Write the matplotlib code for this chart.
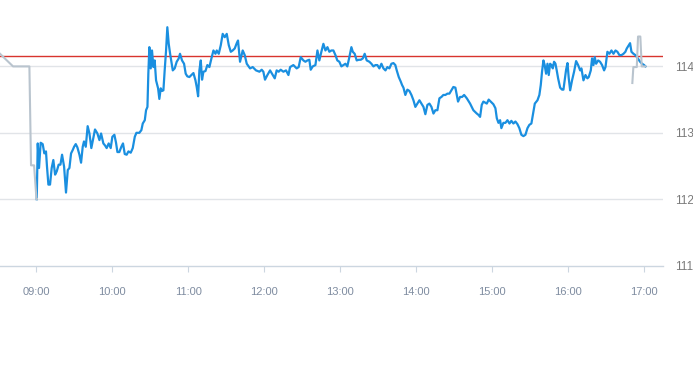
import matplotlib.pyplot as plt

# minutes after 09:00 and price for the regular session (blue)
blue_min = [
    0.4, 1.2, 2.2, 3.5, 5.1, 6.4, 7.7, 8.5, 9.6, 10.9,
    12.2, 13.5, 14.9, 16.2, 17.7, 19.1, 20.4, 22.0, 23.5, 24.9,
    26.2, 27.5, 28.8, 29.9, 31.2, 32.5, 34.1, 35.4, 36.7, 37.7,
    39.1, 40.6, 42.0, 43.5, 45.1, 46.4, 48.3, 49.9, 51.2, 53.0,
    54.3, 55.6, 57.2, 58.8, 60.1, 61.7, 63.0, 64.1, 65.6, 67.2,
    68.5, 69.9, 71.4, 72.8, 74.6, 76.2, 77.8, 79.1, 81.4, 83.0,
    84.1, 85.7, 86.7, 87.8, 88.5, 89.3, 90.4, 91.4, 92.5, 93.5,
    94.6, 96.2, 97.2, 98.3, 99.3, 100.4, 101.4, 102.5, 103.5, 104.6,
    105.7, 106.7, 107.8, 109.3, 110.9, 112.5, 113.5, 115.1, 116.7, 118.0,
    119.3, 120.9, 122.5, 124.1, 125.7, 126.7, 127.8, 128.8, 129.9, 130.9,
    132.0, 133.6, 135.1, 136.7, 138.3, 139.9, 141.5, 142.5, 144.1, 145.7,
    147.2, 148.8, 150.4, 152.0, 153.6, 155.1, 156.7, 158.3, 159.3, 160.9,
    163.0, 164.6, 166.2, 168.8, 170.9, 173.5, 176.2, 178.0, 179.3, 180.6,
    182.5, 184.6, 186.7, 188.3, 189.8, 191.4, 193.0, 195.1, 197.2, 199.1,
    200.4, 203.0, 205.6, 207.2, 208.8, 210.9, 212.5, 214.1, 215.6, 216.7,
    218.3, 220.4, 222.0, 223.5, 225.1, 226.7, 228.3, 229.9, 231.4, 233.0,
    234.6, 236.2, 237.7, 239.3, 240.9, 242.5, 244.1, 245.6, 247.2, 248.8,
    249.9, 251.4, 253.0, 254.6, 256.2, 257.8, 259.3, 260.9, 263.0, 264.6,
    266.2, 267.8, 269.3, 270.9, 272.5, 274.1, 275.7, 277.2, 278.8, 280.4,
    282.0, 283.5, 284.6, 286.2, 287.8, 288.8, 289.9, 291.4, 293.0, 294.6,
    296.2, 297.8, 299.3, 300.9, 302.5, 304.1, 305.7, 307.2, 308.8, 310.4,
    312.0, 313.6, 315.1, 316.7, 318.3, 319.9, 321.4, 323.0, 324.6, 326.2,
    327.8, 329.3, 330.9, 332.0, 333.0, 334.6, 336.2, 337.8, 339.9, 342.5,
    345.1, 347.8, 349.1, 350.4, 351.7, 353.0, 355.7, 357.2, 358.8, 360.9,
    362.5, 363.6, 364.9, 366.2, 367.2, 368.8, 370.4, 372.0, 373.6, 375.1,
    376.7, 378.3, 379.9, 381.4, 383.0, 384.6, 386.2, 387.8, 389.3, 390.9,
    392.5, 393.6, 395.7, 397.2, 398.3, 399.3, 400.4, 401.4, 402.5, 403.6,
    404.6, 405.7, 406.7, 407.8, 408.8, 409.9, 410.9, 412.0, 413.6, 415.1,
    416.2, 417.2, 418.3, 419.4, 420.4, 421.5, 423.0, 424.6, 426.2, 427.8,
    429.4, 430.4, 432.0, 433.6, 435.1, 436.2, 437.8, 438.8, 439.9, 440.9,
    442.0, 443.6, 445.1, 446.7, 448.3, 449.4, 450.9, 452.5, 454.1, 455.7,
    457.3, 458.8, 460.4, 462.0, 463.6, 465.1, 466.2, 467.8, 468.8, 469.9,
    471.5, 473.0, 474.6, 476.7, 478.3, 479.9, 480.9,
]
blue_price = [
    112.0, 112.84, 112.47, 112.85, 112.83, 112.69, 112.72, 112.49, 112.22, 112.22,
    112.47, 112.59, 112.37, 112.42, 112.52, 112.52, 112.67, 112.49, 112.10, 112.44,
    112.47, 112.69, 112.74, 112.79, 112.83, 112.78, 112.67, 112.55, 112.79, 112.87,
    112.79, 113.10, 112.99, 112.77, 112.92, 113.05, 112.99, 112.89, 112.99, 112.84,
    112.81, 112.77, 112.84, 112.77, 112.94, 112.97, 112.85, 112.71, 112.71, 112.79,
    112.84, 112.68, 112.67, 112.72, 112.70, 112.77, 112.94, 113.0, 113.0, 113.04,
    113.14, 113.19, 113.34, 113.39, 113.89, 114.29, 113.97, 114.24, 113.99, 114.09,
    113.79, 113.67, 113.51, 113.67, 113.63, 113.64, 113.94, 114.24, 114.59, 114.34,
    114.19, 114.07, 113.94, 113.97, 114.07, 114.12, 114.19, 114.09, 114.04, 113.89,
    113.85, 113.84, 113.87, 113.90, 113.79, 113.69, 113.55, 113.94, 114.09, 113.80,
    113.92, 113.93, 114.02, 113.99, 114.12, 114.24, 114.19, 114.24, 114.19, 114.32,
    114.49, 114.44, 114.49, 114.32, 114.22, 114.24, 114.27, 114.35, 114.39, 114.07,
    114.24, 114.17, 114.04, 113.97, 113.99, 113.94, 113.92, 113.95, 113.92, 113.80,
    113.87, 113.94, 113.87, 113.82, 113.94, 113.92, 113.95, 113.92, 113.94, 113.87,
    113.99, 114.02, 113.97, 113.99, 114.14, 114.09, 114.07, 114.09, 114.10, 113.95,
    114.0, 114.02, 114.24, 114.09, 114.22, 114.34, 114.24, 114.29, 114.22, 114.24,
    114.24, 114.17, 114.09, 114.07, 114.0, 114.02, 114.04, 114.0, 114.14, 114.29,
    114.22, 114.19, 114.09, 114.10, 114.10, 114.12, 114.19, 114.09, 114.07, 114.04,
    114.0, 114.02, 114.02, 113.97, 114.04, 113.97, 113.94, 113.99, 113.97, 114.04,
    114.05, 114.02, 113.94, 113.84, 113.77, 113.72, 113.68, 113.57, 113.65, 113.63,
    113.57, 113.49, 113.39, 113.44, 113.49, 113.44, 113.39, 113.28, 113.42, 113.44,
    113.39, 113.29, 113.34, 113.34, 113.52, 113.54, 113.57, 113.57, 113.59, 113.59,
    113.64, 113.69, 113.68, 113.57, 113.47, 113.54, 113.54, 113.57, 113.52, 113.44,
    113.34, 113.29, 113.27, 113.24, 113.42, 113.47, 113.44, 113.50, 113.47, 113.43,
    113.37, 113.22, 113.15, 113.19, 113.07, 113.15, 113.15, 113.19, 113.14, 113.18,
    113.14, 113.17, 113.13, 113.07, 112.97, 112.95, 112.97, 113.07, 113.12, 113.14,
    113.32, 113.44, 113.49, 113.57, 113.72, 113.92, 114.09, 114.02, 113.89, 114.04,
    113.87, 114.04, 114.02, 113.97, 114.07, 114.04, 113.94, 113.82, 113.68, 113.65,
    113.65, 113.79, 113.95, 114.05, 113.82, 113.64, 113.79, 113.92, 114.08, 114.02,
    113.94, 113.97, 113.79, 113.87, 113.82, 113.84, 113.94, 114.12, 114.02, 114.14,
    114.04, 114.09, 114.07, 114.02, 113.94, 113.99, 114.22, 114.19, 114.24, 114.19,
    114.24, 114.22, 114.17, 114.17, 114.19, 114.22, 114.27, 114.32, 114.35, 114.22,
    114.19, 114.17, 114.13, 114.07, 114.04, 114.02, 114.0,
]

# pre- and post-market (grey)
pre_min = [-28.6, -18.3, -5.4, -4.1, -1.7, 0.2, 0.4]
pre_price = [114.19, 114.0, 114.0, 112.51, 112.51, 112.0, 112.0]
post_min = [470.6, 471.4, 474.1, 475.1, 476.9, 478.0, 480.9]
post_price = [113.75, 113.99, 113.99, 114.45, 114.45, 114.0, 114.0]

prev_close = 114.15
hour_labels = ['09:00', '10:00', '11:00', '12:00', '13:00', '14:00', '15:00', '16:00', '17:00']
y_ticks = [111, 112, 113, 114]

plt.rcParams['font.family'] = ['Liberation Sans', 'DejaVu Sans']

fig = plt.figure(figsize=(6.93, 3.65), dpi=100)
ax = fig.add_axes([0, 0.2723, 663 / 693, 0.7277])

for y in [112, 113, 114]:
    ax.axhline(y, color='#e1e4e8', lw=1.0, zorder=1)
ax.axhline(prev_close, color='#d8342e', lw=1.0, zorder=2)

ax.plot(blue_min, blue_price, color='#1a8fe0', lw=1.6, zorder=3)
ax.plot(pre_min, pre_price, color='#b9c4ce', lw=1.5, zorder=4)
ax.plot(post_min, post_price, color='#b9c4ce', lw=1.5, zorder=4)

ax.set_xlim(-28.6, 494.8)
ax.set_ylim(111, 115)

ax.set_xticks([60 * i for i in range(len(hour_labels))])
ax.set_xticklabels(hour_labels)
ax.set_yticks(y_ticks)
ax.set_yticklabels([str(v) for v in y_ticks])

ax.yaxis.tick_right()
ax.tick_params(axis='y', length=0, pad=8.5, labelsize=8.5, labelcolor='#7a7a7a')
ax.tick_params(axis='x', length=4, width=0.8, color='#ccd6e0', pad=11.5,
               labelsize=8, labelcolor='#7f8ca0')

for side in ['top', 'left', 'right']:
    ax.spines[side].set_visible(False)
ax.spines['bottom'].set_color('#ccd6e0')
ax.spines['bottom'].set_linewidth(1.0)

fig.savefig('out.png', dpi=100)
